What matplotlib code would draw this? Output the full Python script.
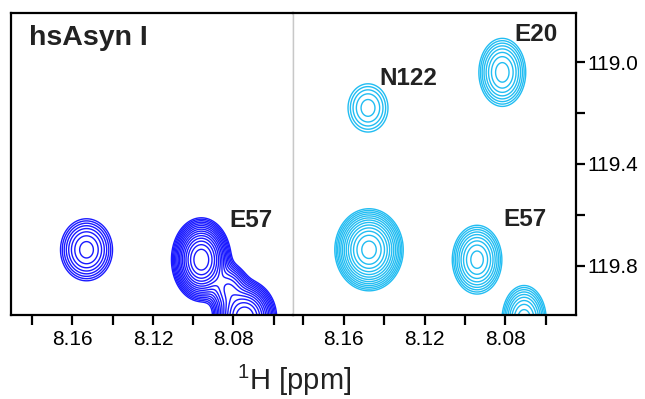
import numpy as np
import matplotlib
matplotlib.use('Agg')
from matplotlib import pyplot as plt
from matplotlib.ticker import FixedLocator, NullFormatter

plt.rcParams['font.family'] = ['Liberation Sans', 'DejaVu Sans']
plt.rcParams['mathtext.fontset'] = 'custom'
plt.rcParams['mathtext.rm'] = 'Liberation Sans'

# peak tables (1H ppm, 15N ppm, height, widths)
left_h = [8.153, 8.096, 8.0825, 8.0743]
left_n = [119.738, 119.777, 119.89, 120.006]
left_amp = [7.2, 50.0, 10.0, 40.0]
left_wh = [0.0065, 0.0053, 0.0045, 0.0058]
left_wn = [0.0615, 0.059, 0.045, 0.055]

right_h = [8.148, 8.0815, 8.1475, 8.094, 8.0707]
right_n = [119.179, 119.039, 119.738, 119.777, 120.014]
right_amp = [3.3, 7.4, 27.0, 9.4, 10.0]
right_wh = [0.0064, 0.0058, 0.0066, 0.0058, 0.0051]
right_wn = [0.0615, 0.067, 0.063, 0.064, 0.063]

# labels
left_labels = ['E57']
left_lab_h = [8.0822]
left_lab_n = [119.647]
right_labels = ['N122', 'E20', 'E57']
right_lab_h = [8.1424, 8.0757, 8.081]
right_lab_n = [119.088, 118.917, 119.646]

xticks_major = [8.16, 8.12, 8.08]
xticks_minor = [8.18, 8.14, 8.10, 8.06]
yticks_major = [119.0, 119.4, 119.8]
yticks_minor = [119.2, 119.6]

levels = 1.3 ** np.arange(0, 20)

hh = np.linspace(8.03, 8.21, 500)
nn = np.linspace(118.7, 120.2, 500)
H, N = np.meshgrid(hh, nn)


def spectrum(ph, pn, amp, wh, wn):
    z = np.zeros_like(H)
    for i in range(len(ph)):
        z += amp[i] * np.exp(-0.5 * ((H - ph[i]) / wh[i]) ** 2
                             - 0.5 * ((N - pn[i]) / wn[i]) ** 2)
    return z


fig = plt.figure(figsize=(6.45, 3.99), dpi=100)
ax1 = fig.add_axes([11 / 645, 84 / 399, (293.3 - 11) / 645, 302 / 399])
ax2 = fig.add_axes([293.3 / 645, 84 / 399, (576 - 293.3) / 645, 302 / 399])

ax1.contour(H, N, spectrum(left_h, left_n, left_amp, left_wh, left_wn),
            levels=levels, colors='#1a1aff', linewidths=1.0)
ax2.contour(H, N, spectrum(right_h, right_n, right_amp, right_wh, right_wn),
            levels=levels, colors='#22bdf2', linewidths=1.0)

ax1.set_xlim(8.1905, 8.0503)
ax2.set_xlim(8.185, 8.045)
for ax in (ax1, ax2):
    ax.set_ylim(119.995, 118.805)
    ax.xaxis.set_major_locator(FixedLocator(xticks_major))
    ax.xaxis.set_minor_locator(FixedLocator(xticks_minor))
    ax.xaxis.set_minor_formatter(NullFormatter())
    ax.set_xticklabels(['%.2f' % v for v in xticks_major])
    ax.tick_params(axis='x', which='both', direction='out', length=7.2,
                   width=1.6, labelsize=15, pad=3.5)
    for s in ax.spines.values():
        s.set_linewidth(1.6)

ax1.set_yticks([])
ax1.spines['right'].set_color('#c8c8c8')
ax1.spines['right'].set_linewidth(1.0)
ax2.spines['left'].set_color('#c8c8c8')
ax2.spines['left'].set_linewidth(1.0)

ax2.yaxis.tick_right()
ax2.yaxis.set_major_locator(FixedLocator(yticks_major))
ax2.yaxis.set_minor_locator(FixedLocator(yticks_minor))
ax2.yaxis.set_minor_formatter(NullFormatter())
ax2.set_yticklabels(['%.1f' % v for v in yticks_major])
ax2.tick_params(axis='y', which='both', direction='out', length=6.5,
                width=1.6, labelsize=15, pad=2, left=False, right=True)

ax1.text(0.0625, 0.895, 'hsAsyn I', transform=ax1.transAxes, fontsize=20.5,
         fontweight='bold', color='#222222', ha='left', va='baseline')
for i in range(len(left_labels)):
    ax1.text(left_lab_h[i], left_lab_n[i], left_labels[i], fontsize=17.5,
             fontweight='bold', color='#222222', ha='left', va='baseline')
for i in range(len(right_labels)):
    ax2.text(right_lab_h[i], right_lab_n[i], right_labels[i], fontsize=17.5,
             fontweight='bold', color='#222222', ha='left', va='baseline')

fig.text(294 / 645, 0.0226, r'$^{1}$H [ppm]', fontsize=21,
         color='#222222', ha='center', va='baseline')

fig.savefig('out.png', dpi=100)
